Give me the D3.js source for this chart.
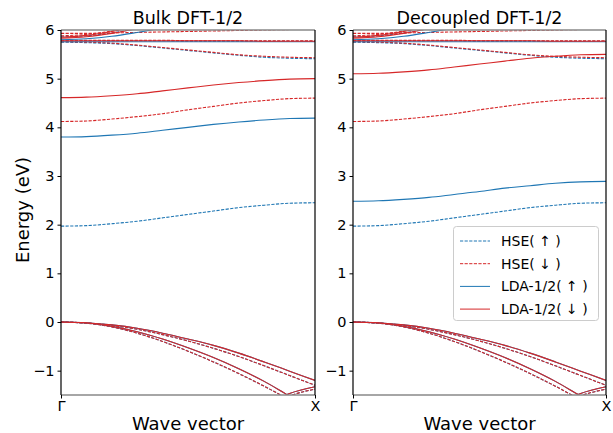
<!DOCTYPE html>
<html><head><meta charset="utf-8">
<script src="https://cdn.jsdelivr.net/npm/d3@7"></script>
<style>body{margin:0;background:#fff}svg{display:block}text{font-family:"DejaVu Sans",sans-serif}</style>
</head><body>
<svg id="c" width="613" height="433"></svg>
<script>
const kpts = [0,0.1,0.2,0.3,0.4,0.5,0.6,0.7,0.8,0.9,1.0];
const xTickLabels = ["Γ","X"];
const yTicks = [-1,0,1,2,3,4,5,6];
const panelTitles = ["Bulk DFT-1/2","Decoupled DFT-1/2"];
const legendLabels = ["HSE( ↑ )","HSE( ↓ )","LDA-1/2( ↑ )","LDA-1/2( ↓ )"];

// HSE bands (same in both panels)
const hseUp = [
  [0,-0.02,-0.07,-0.15,-0.26,-0.39,-0.54,-0.71,-0.90,-1.10,-1.30],
  [0,-0.025,-0.10,-0.23,-0.40,-0.60,-0.82,-1.06,-1.32,-1.60,-1.88],
  [null,null,null,null,null,null,null,-2.05,-1.80,-1.52,-1.38],
  [1.97,1.98,2.02,2.07,2.14,2.21,2.28,2.35,2.40,2.44,2.45],
  [5.75,5.74,5.72,5.68,5.63,5.58,5.53,5.48,5.44,5.42,5.41],
  [5.78,5.78,5.78,5.78,5.78,5.77,5.77,5.77,5.77,5.77,5.77],
  [5.86,5.88,5.94,6.03,6.14,6.25,6.35,6.45,6.52,6.56,6.58]
];
const hseDown = [
  [0,-0.02,-0.07,-0.15,-0.26,-0.39,-0.54,-0.71,-0.90,-1.10,-1.30],
  [0,-0.025,-0.10,-0.23,-0.40,-0.60,-0.82,-1.06,-1.32,-1.60,-1.88],
  [null,null,null,null,null,null,null,-2.05,-1.80,-1.52,-1.38],
  [4.12,4.13,4.17,4.22,4.28,4.36,4.43,4.50,4.55,4.59,4.60],
  [5.76,5.75,5.73,5.69,5.64,5.59,5.54,5.49,5.46,5.44,5.43],
  [5.79,5.79,5.79,5.79,5.79,5.78,5.78,5.78,5.78,5.78,5.78],
  [5.93,5.93,5.94,5.95,5.96,5.97,5.98,5.99,6.00,6.01,6.02],
  [5.88,5.91,5.98,6.08,6.19,6.30,6.40,6.48,6.54,6.58,6.60]
];
// LDA-1/2 bands, bulk panel
const ldaUpBulk = [
  [0,-0.015,-0.06,-0.13,-0.23,-0.35,-0.48,-0.64,-0.82,-1.01,-1.20],
  [0,-0.02,-0.09,-0.20,-0.35,-0.53,-0.73,-0.96,-1.22,-1.52,-1.80],
  [null,null,null,null,null,null,null,-1.98,-1.74,-1.47,-1.33],
  [3.80,3.81,3.84,3.88,3.94,4.00,4.06,4.11,4.15,4.18,4.19],
  [5.76,5.76,5.76,5.76,5.76,5.76,5.76,5.76,5.76,5.76,5.76],
  [5.80,5.82,5.87,5.95,6.04,6.14,6.24,6.32,6.38,6.42,6.43]
];
const ldaDownBulk = [
  [0,-0.015,-0.06,-0.13,-0.23,-0.35,-0.48,-0.64,-0.82,-1.01,-1.20],
  [0,-0.02,-0.09,-0.20,-0.35,-0.53,-0.73,-0.96,-1.22,-1.52,-1.80],
  [null,null,null,null,null,null,null,-1.98,-1.74,-1.47,-1.33],
  [4.61,4.62,4.65,4.69,4.75,4.81,4.87,4.92,4.96,4.99,5.00],
  [5.78,5.78,5.78,5.78,5.78,5.78,5.78,5.78,5.77,5.77,5.77],
  [5.85,5.89,5.97,6.08,6.20,6.32,6.42,6.50,6.56,6.60,6.62],
  [5.83,5.86,5.93,6.03,6.14,6.25,6.35,6.43,6.49,6.52,6.54]
];
// LDA-1/2 bands, decoupled panel
const ldaUpDec = [
  [0,-0.015,-0.06,-0.13,-0.23,-0.35,-0.48,-0.64,-0.82,-1.01,-1.20],
  [0,-0.02,-0.09,-0.20,-0.35,-0.53,-0.73,-0.96,-1.22,-1.52,-1.80],
  [null,null,null,null,null,null,null,-1.98,-1.74,-1.47,-1.33],
  [2.48,2.49,2.52,2.56,2.62,2.68,2.75,2.80,2.85,2.88,2.89],
  [5.76,5.76,5.76,5.76,5.76,5.76,5.76,5.76,5.76,5.76,5.76],
  [5.80,5.82,5.87,5.95,6.04,6.14,6.24,6.32,6.38,6.42,6.43]
];
const ldaDownDec = [
  [0,-0.015,-0.06,-0.13,-0.23,-0.35,-0.48,-0.64,-0.82,-1.01,-1.20],
  [0,-0.02,-0.09,-0.20,-0.35,-0.53,-0.73,-0.96,-1.22,-1.52,-1.80],
  [null,null,null,null,null,null,null,-1.98,-1.74,-1.47,-1.33],
  [5.10,5.11,5.14,5.18,5.24,5.30,5.36,5.42,5.46,5.49,5.50],
  [5.78,5.78,5.78,5.78,5.78,5.78,5.78,5.78,5.77,5.77,5.77],
  [5.85,5.89,5.97,6.08,6.20,6.32,6.42,6.50,6.56,6.60,6.62],
  [5.83,5.86,5.93,6.03,6.14,6.25,6.35,6.43,6.49,6.52,6.54]
];

const BLUE = "#1f77b4", RED = "#d62728";
const svg = d3.select("#c");
const yTop = 30, yBot = 395;
const panelsX = [[61,315],[353,606]];
const y = d3.scaleLinear().domain([-1.5,6]).range([yBot, yTop]);
const panelData = [
  {up: ldaUpBulk, down: ldaDownBulk},
  {up: ldaUpDec, down: ldaDownDec}
];

panelsX.forEach((px, i) => {
  const x = d3.scaleLinear().domain([0,1]).range(px);
  const g = svg.append("g");
  const cid = "clip" + i;
  svg.append("defs").append("clipPath").attr("id", cid)
    .append("rect").attr("x", px[0]).attr("y", yTop).attr("width", px[1]-px[0]).attr("height", yBot-yTop);
  const plot = g.append("g").attr("clip-path", `url(#${cid})`);
  const line = d3.line().defined(d => d[1] !== null)
    .x(d => x(d[0])).y(d => y(d[1])).curve(d3.curveMonotoneX);
  const draw = (bands, color, dash) => bands.forEach(b => {
    plot.append("path").attr("d", line(kpts.map((k, j) => [k, b[j]])))
      .attr("fill", "none").attr("stroke", color).attr("stroke-width", 1.1)
      .attr("stroke-dasharray", dash ? "3.2,1.4" : null);
  });
  draw(hseUp, BLUE, true);
  draw(hseDown, RED, true);
  draw(panelData[i].up, BLUE, false);
  draw(panelData[i].down, RED, false);

  // spines
  g.append("line").attr("x1", px[0]).attr("x2", px[1]).attr("y1", yTop).attr("y2", yTop).attr("stroke", "#888").attr("stroke-width", 1.5);
  g.append("line").attr("x1", px[0]).attr("x2", px[1]).attr("y1", yBot).attr("y2", yBot).attr("stroke", "#888").attr("stroke-width", 1.5);
  g.append("line").attr("x1", px[0]).attr("x2", px[0]).attr("y1", yTop).attr("y2", yBot).attr("stroke", "#000").attr("stroke-width", 1.2);
  g.append("line").attr("x1", px[1]).attr("x2", px[1]).attr("y1", yTop).attr("y2", yBot).attr("stroke", "#000").attr("stroke-width", 1.2);

  // y axis
  const ya = d3.axisLeft(y).tickValues(yTicks).tickSize(3.5).tickPadding(3)
    .tickFormat(d => d < 0 ? "\u2212" + Math.abs(d) : d);
  const yg = g.append("g").attr("transform", `translate(${px[0]},0)`).call(ya);
  yg.select(".domain").remove();
  yg.selectAll("text").attr("font-size", 14.5).attr("fill", "#000").style("font-family", "DejaVu Sans");
  // x axis
  const xa = d3.axisBottom(x).tickValues([0,1]).tickSize(3.5).tickPadding(2)
    .tickFormat((d, j) => xTickLabels[j]);
  const xg = g.append("g").attr("transform", `translate(0,${yBot})`).call(xa);
  xg.select(".domain").remove();
  xg.selectAll("text").attr("font-size", 14.5).attr("fill", "#000").style("font-family", "DejaVu Sans");

  g.append("text").attr("x", (px[0]+px[1])/2).attr("y", 24).attr("text-anchor", "middle")
    .attr("font-size", 17.5).text(panelTitles[i]);
  g.append("text").attr("x", (px[0]+px[1])/2).attr("y", 430).attr("text-anchor", "middle")
    .attr("font-size", 18).text("Wave vector");
});

svg.append("text").attr("transform", "translate(29,210) rotate(-90)").attr("text-anchor", "middle")
  .attr("font-size", 18).text("Energy (eV)");

// legend
const lg = svg.append("g");
lg.append("rect").attr("x", 453.5).attr("y", 226.5).attr("width", 145).attr("height", 94).attr("rx", 3)
  .attr("fill", "#fff").attr("fill-opacity", 0.8).attr("stroke", "#ccc");
const legendStyle = [[BLUE,true],[RED,true],[BLUE,false],[RED,false]];
legendLabels.forEach((t, i) => {
  const yy = 241 + i * 22.7;
  lg.append("line").attr("x1", 460).attr("x2", 490).attr("y1", yy).attr("y2", yy)
    .attr("stroke", legendStyle[i][0]).attr("stroke-width", 1)
    .attr("stroke-dasharray", legendStyle[i][1] ? "3.2,1.4" : null);
  lg.append("text").attr("x", 501).attr("y", yy + 5).attr("font-size", 14).text(t);
});
</script>
</body></html>
